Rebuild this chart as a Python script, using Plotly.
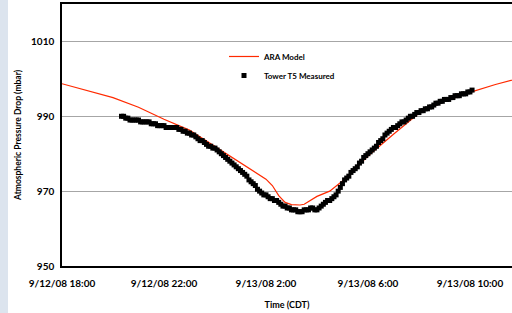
import plotly.graph_objects as go
import pandas as pd

# ARA model (time, pressure mbar)
model_time = ["2008-09-12 18:00", "2008-09-12 19:00", "2008-09-12 20:00", "2008-09-12 21:00",
              "2008-09-12 22:00", "2008-09-12 23:00", "2008-09-13 00:00", "2008-09-13 01:00",
              "2008-09-13 02:00", "2008-09-13 02:15", "2008-09-13 02:30", "2008-09-13 02:45",
              "2008-09-13 03:00", "2008-09-13 03:20", "2008-09-13 03:30", "2008-09-13 04:00",
              "2008-09-13 04:30", "2008-09-13 05:00", "2008-09-13 06:00", "2008-09-13 07:00",
              "2008-09-13 08:00", "2008-09-13 09:00", "2008-09-13 10:00", "2008-09-13 11:00",
              "2008-09-13 12:00"]
model_p = [998.7, 996.9, 995.0, 992.4,
           989.2, 986.3, 982.0, 977.6,
           973.2, 971.5, 968.8, 967.0,
           966.4, 966.3, 966.5, 968.6,
           970.0, 972.7, 979.4, 985.2,
           990.8, 994.0, 996.4, 998.5,
           1000.3]

# Tower T5 measured, every 5 minutes from 20:20 to 10:05
meas_p = [990.0, 990.0, 989.5, 989.5, 989.0, 989.0, 989.0, 989.0, 989.0, 988.5,
          988.5, 988.5, 988.5, 988.5, 988.0, 988.0, 988.0, 987.5, 987.5, 987.5,
          987.5, 987.0, 987.0, 987.0, 987.0, 987.0, 987.0, 986.5, 986.5, 986.0,
          986.0, 985.5, 985.5, 985.0, 985.0, 984.5, 984.0, 983.5, 983.5, 983.0,
          982.5, 982.0, 982.0, 981.5, 981.5, 981.0, 980.5, 980.0, 979.5, 979.0,
          978.5, 978.0, 977.5, 977.0, 976.5, 976.0, 975.5, 975.0, 974.5, 974.0,
          973.0, 972.5, 972.0, 971.5, 970.5, 970.0, 969.5, 969.0, 969.0, 968.5,
          968.0, 968.0, 967.5, 967.5, 967.0, 966.5, 966.0, 966.0, 965.5, 965.5,
          965.0, 965.0, 965.0, 964.5, 964.5, 964.5, 965.0, 965.0, 965.0, 965.5,
          965.5, 965.0, 965.0, 965.5, 966.0, 966.5, 967.0, 967.5, 967.5, 968.0,
          968.5, 969.0, 970.0, 971.0, 972.0, 973.0, 973.5, 974.0, 975.0, 975.5,
          976.0, 976.5, 977.5, 978.0, 979.0, 979.5, 980.0, 980.5, 981.0, 981.5,
          982.0, 983.0, 983.5, 984.0, 985.0, 985.5, 986.0, 986.5, 987.0, 987.0,
          987.5, 988.0, 988.5, 988.5, 989.0, 989.5, 990.0, 990.0, 990.5, 991.0,
          991.0, 991.5, 991.5, 992.0, 992.0, 992.5, 992.5, 993.0, 993.5, 993.5,
          994.0, 994.0, 994.5, 994.5, 994.5, 995.0, 995.0, 995.5, 995.5, 995.5,
          996.0, 996.0, 996.0, 996.5, 996.5, 997.0]
meas_start = "2008-09-12 20:20"
meas_step_min = 5

x_tickvals = ["2008-09-12 18:00", "2008-09-12 22:00", "2008-09-13 02:00",
              "2008-09-13 06:00", "2008-09-13 10:00"]
x_ticktext = ["9/12/08 18:00", "9/12/08 22:00", "9/13/08 2:00", "9/13/08 6:00", "9/13/08 10:00"]
y_tickvals = [950, 970, 990, 1010]

meas_time = pd.date_range(meas_start, periods=len(meas_p), freq=f"{meas_step_min}min")

FONT = "Lato"

fig = go.Figure()
fig.add_trace(go.Scatter(x=model_time, y=model_p, mode="lines", name="ARA Model",
                         line=dict(color="#FF2A00", width=1.2)))
fig.add_trace(go.Scatter(x=meas_time, y=meas_p, mode="markers", name="Tower T5 Measured",
                         marker=dict(symbol="square", color="black", size=5,
                                     line=dict(width=0))))

fig.update_layout(
    width=512, height=313,
    margin=dict(l=62, r=0, t=4, b=47),
    paper_bgcolor="white", plot_bgcolor="white",
    font=dict(family=FONT, color="black"),
    legend=dict(x=0.36, y=0.855, xanchor="left", yanchor="top",
                bgcolor="rgba(0,0,0,0)", itemwidth=30, tracegroupgap=0,
                font=dict(family=FONT, size=8, weight="bold")),
    xaxis=dict(range=["2008-09-12 18:00", "2008-09-13 11:39"],
               tickvals=x_tickvals, ticktext=x_ticktext,
               tickfont=dict(size=10, weight="bold"), ticklabelstandoff=7,
               showgrid=False, showline=True, linecolor="black", linewidth=1.5,
               mirror=True, ticks="", zeroline=False,
               title=dict(text="Time (CDT)", font=dict(size=9, weight="bold"), standoff=14)),
    yaxis=dict(range=[950, 1020], tickvals=y_tickvals,
               tickfont=dict(size=10, weight="bold"), ticklabelstandoff=4,
               showgrid=True, gridcolor="#A6A6A6", gridwidth=1,
               showline=True, linecolor="black", linewidth=1.5,
               ticks="", zeroline=False,
               title=dict(text="Atmospheric Pressure Drop (mbar)",
                          font=dict(size=8.5, weight="bold"), standoff=8)),
    shapes=[dict(type="rect", xref="paper", yref="paper",
                 x0=-62/450, x1=-54/450, y0=-47/262, y1=1 + 4/262,
                 fillcolor="#DCE4EE", line=dict(width=0), layer="below")],
)

fig.write_html("out.html", config={"displayModeBar": False},
               post_script="document.body.style.margin='0';")
